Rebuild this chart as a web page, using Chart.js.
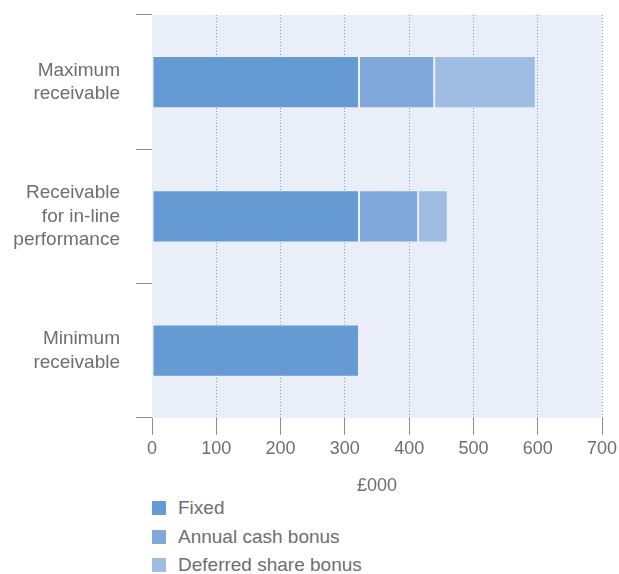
<!DOCTYPE html>
<html>
<head>
<meta charset="utf-8">
<script src="https://cdn.jsdelivr.net/npm/chart.js@4"></script>
<style>
  body { margin: 0; background: #fff; font-family: "Liberation Sans", Arial, sans-serif; }
  #wrap { position: relative; width: 619px; height: 501px; }
  #legend { margin: -7px 0 0 0; padding: 0 0 0 152px; list-style: none; }
  #legend li { display: flex; align-items: center; height: 28.5px; font-size: 19px; color: #6d6e71; }
  #legend span.box { width: 14px; height: 14px; margin-right: 12px; display: inline-block; }
</style>
</head>
<body>
<div id="wrap"><canvas id="payChart"></canvas></div>
<ul id="legend"></ul>
<script>
  // 資料
  const categories = [['Maximum', 'receivable'], ['Receivable', 'for in-line', 'performance'], ['Minimum', 'receivable']];
  const fixedPay = [322, 322, 322];
  const annualCashBonus = [117, 92, 0];
  const deferredShareBonus = [158, 46, 0];
  const seriesNames = ['Fixed', 'Annual cash bonus', 'Deferred share bonus'];
  const seriesColors = ['#659bd2', '#80a8da', '#9fbde2'];

  const textGrey = '#6d6e71';
  const tickGrey = '#8c8c8c';

  // 繪圖區背景
  const plotBackground = {
    id: 'plotBackground',
    beforeDraw(chart) {
      const { ctx, chartArea } = chart;
      ctx.save();
      ctx.fillStyle = '#e9eef8';
      ctx.fillRect(chartArea.left, chartArea.top, chartArea.right - chartArea.left, chartArea.bottom - chartArea.top);
      ctx.restore();
    }
  };

  const values = [fixedPay, annualCashBonus, deferredShareBonus];
  const datasets = seriesNames.map((name, i) => ({
    label: name,
    data: values[i],
    backgroundColor: seriesColors[i],
    borderColor: 'rgba(255,255,255,0.2)',
    borderWidth: 1,
    borderSkipped: false,
    barPercentage: 0.39,
    categoryPercentage: 1
  }));

  const chart = new Chart(document.getElementById('payChart'), {
    type: 'bar',
    data: { labels: categories, datasets: datasets },
    options: {
      indexAxis: 'y',
      responsive: true,
      maintainAspectRatio: false,
      animation: false,
      layout: { padding: { top: 15, left: 0, right: 0, bottom: 0 } },
      plugins: {
        legend: { display: false },
        tooltip: { enabled: false }
      },
      scales: {
        x: {
          stacked: true,
          min: 0,
          max: 700,
          ticks: {
            stepSize: 100,
            color: textGrey,
            font: { family: 'Liberation Sans', size: 18 },
            padding: 3
          },
          grid: {
            color: (ctx) => (ctx.tick && ctx.tick.value === 0) ? 'rgba(0,0,0,0)' : '#6ea6e6',
            tickColor: tickGrey,
            tickLength: 17,
            tickBorderDash: [],
            lineWidth: 1
          },
          border: { display: false, dash: [1, 2] },
          title: {
            display: true,
            text: '£000',
            color: textGrey,
            font: { family: 'Liberation Sans', size: 18 },
            padding: { top: 13, bottom: 4 }
          },
          afterFit(scale) {
            scale.paddingRight = 17;
          }
        },
        y: {
          stacked: true,
          ticks: {
            color: textGrey,
            font: { family: 'Liberation Sans', size: 19, lineHeight: 1.24 },
            padding: 16
          },
          grid: {
            offset: true,
            drawOnChartArea: false,
            tickColor: tickGrey,
            tickLength: 16
          },
          border: { display: false },
          // 固定左側寬度，並去掉標籤造成的上下留白
          afterFit(scale) {
            scale.width = 152;
            scale.paddingTop = 0;
            scale.paddingBottom = 0;
          }
        }
      }
    },
    plugins: [plotBackground]
  });

  // 圖例
  const legend = document.getElementById('legend');
  seriesNames.forEach((name, i) => {
    const li = document.createElement('li');
    li.innerHTML = '<span class="box" style="background:' + seriesColors[i] + '"></span>' + name;
    legend.appendChild(li);
  });
</script>
</body>
</html>
